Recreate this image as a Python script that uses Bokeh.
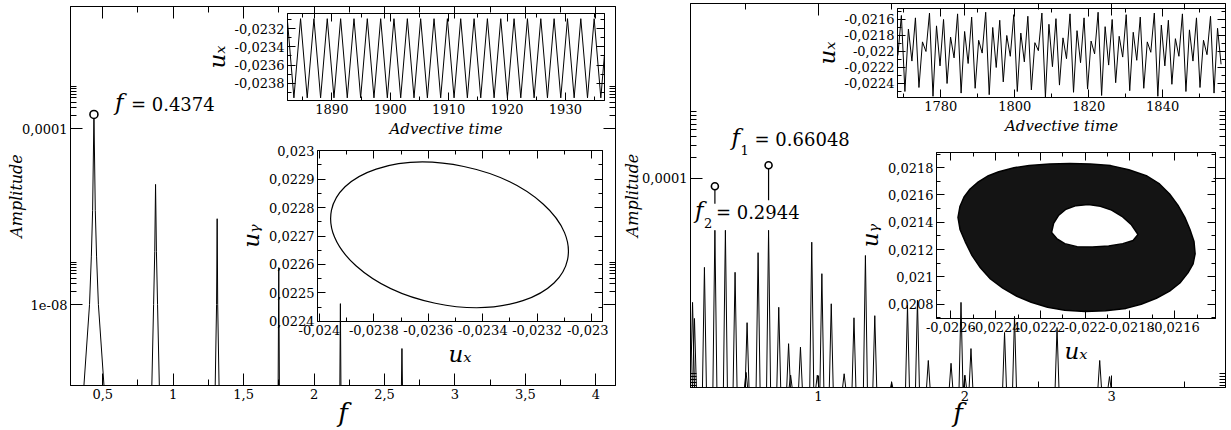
import numpy as np
from bokeh.plotting import figure
from bokeh.models import (FixedTicker, LinearAxis, LogAxis, Label, Column,
                          CustomJSTickFormatter, Range1d)
from bokeh.embed import file_html
from bokeh.resources import INLINE

FONT = "DejaVu Serif"

# ---------------- data ----------------
# left spectrum: polyline vertices (frequency, log10 amplitude)
left_f = [0.365, 0.406, 0.419, 0.428, 0.4374, 0.447, 0.456, 0.469, 0.510,
          0.848, 0.861, 0.869, 0.8748, 0.881, 0.889, 0.902,
          1.298, 1.308, 1.3122, 1.316, 1.326,
          1.745, 1.7496, 1.754,
          2.183, 2.187, 2.191,
          2.620, 2.624, 2.628]
left_logA = [-9.9, -8.0, -6.9, -5.86, -3.68, -5.86, -6.9, -8.0, -9.9,
             -9.9, -8.0, -6.8, -5.27, -6.8, -8.0, -9.9,
             -9.9, -8.0, -6.05, -8.0, -9.9,
             -9.9, -7.16, -9.9,
             -9.9, -7.98, -9.9,
             -9.9, -9.0, -9.9]
left_peak_f = 0.4374
left_peak_logA = -3.68

# right spectrum: spike tops (frequency, log10 amplitude)
right_spike_f = [0.142, 0.155, 0.223, 0.2944, 0.366, 0.432, 0.507, 0.514, 0.589,
                 0.6605, 0.730, 0.797, 0.811, 0.878, 0.955, 0.993, 1.024, 1.088,
                 1.176, 1.243, 1.321, 1.385, 1.500, 1.608, 1.676, 1.750, 1.905,
                 1.973, 2.000, 2.041, 2.270, 2.338, 2.628, 2.919, 2.986]
right_spike_logA = [-5.77, -6.00, -5.27, -4.74, -4.74, -5.34, -6.77, -6.06, -5.06,
                    -4.74, -5.84, -6.36, -6.81, -6.41, -4.91, -6.81, -5.36, -5.79,
                    -6.79, -5.99, -5.10, -5.96, -6.91, -5.81, -5.74, -6.60, -6.64,
                    -5.77, -6.81, -6.43, -6.20, -5.97, -6.13, -6.60, -6.83]
f1_value, f1_stem_top, f1_stem_bottom = 0.66048, -3.81, -4.31
f2_value, f2_stem_top, f2_stem_bottom = 0.2944, -4.11, -4.36

# tick values
left_xticks = [0.5, 1, 1.5, 2, 2.5, 3, 3.5, 4]
left_xminor = [0.25, 0.75, 1.25, 1.75, 2.25, 2.75, 3.25, 3.75]
left_yticks = [1e-8, 1e-4]
left_yminor = [2e-8, 3e-8, 4e-8, 5e-8, 6e-8, 7e-8, 8e-8, 9e-8,
               2e-4, 3e-4, 4e-4, 5e-4, 6e-4, 7e-4, 8e-4, 9e-4]
right_xticks = [1, 2, 3]
right_xminor = [0.5, 1.5, 2.5, 3.5]
right_yticks = [1e-4]
right_yminor = [1.1e-7, 1.22e-7, 1.35e-7, 1.5e-7, 1.65e-7,
                2e-4, 3e-4, 4e-4, 5e-4, 6e-4, 7e-4, 8e-4, 9e-4]

# inset A : periodic time series (extrema)
tsA_t = [1881.21, 1882.36, 1883.50, 1884.64, 1885.78, 1886.93, 1888.07, 1889.21,
         1890.36, 1891.50, 1892.64, 1893.79, 1894.93, 1896.07, 1897.21, 1898.36,
         1899.50, 1900.64, 1901.79, 1902.93, 1904.07, 1905.21, 1906.36, 1907.50,
         1908.64, 1909.79, 1910.93, 1912.07, 1913.21, 1914.36, 1915.50, 1916.64,
         1917.79, 1918.93, 1920.07, 1921.21, 1922.36, 1923.50, 1924.64, 1925.79,
         1926.93, 1928.07, 1929.21, 1930.36, 1931.50, 1932.64, 1933.79, 1934.93,
         1936.07, 1937.21]
tsA_u = [-0.02396, -0.02309, -0.02396, -0.02309, -0.02396, -0.02309, -0.02396, -0.02309,
         -0.02396, -0.02309, -0.02396, -0.02309, -0.02396, -0.02309, -0.02396, -0.02309,
         -0.02396, -0.02309, -0.02396, -0.02309, -0.02396, -0.02309, -0.02396, -0.02309,
         -0.02396, -0.02309, -0.02396, -0.02309, -0.02396, -0.02309, -0.02396, -0.02309,
         -0.02396, -0.02309, -0.02396, -0.02309, -0.02396, -0.02309, -0.02396, -0.02309,
         -0.02396, -0.02309, -0.02396, -0.02309, -0.02396, -0.02309, -0.02396, -0.02309,
         -0.02396, -0.02309]
tsA_xticks = [1890, 1900, 1910, 1920, 1930]
tsA_xminor = [1885, 1895, 1905, 1915, 1925, 1935]
tsA_yticks = [-0.0238, -0.0236, -0.0234, -0.0232]
tsA_yminor = [-0.0239, -0.0237, -0.0235, -0.0233, -0.0231]

# inset B : limit cycle (ellipse centre, axes, tilt)
cyc_ux, cyc_uy = -0.023522, 0.022704
cyc_w, cyc_h, cyc_angle = 0.000886, 0.000491, -0.206
phB_xticks = [-0.024, -0.0238, -0.0236, -0.0234, -0.0232, -0.023]
phB_xminor = [-0.0239, -0.0237, -0.0235, -0.0233, -0.0231]
phB_yticks = [0.0224, 0.0225, 0.0226, 0.0227, 0.0228, 0.0229, 0.023]
phB_yminor = [0.02245, 0.02255, 0.02265, 0.02275, 0.02285, 0.02295]

# inset C : quasi-periodic time series (extrema)
tsC_t0, tsC_dt = 1768.4, 0.95
tsC_u = [-0.02205, -0.02155, -0.02250, -0.02172, -0.02212, -0.02158, -0.02245, -0.02188,
         -0.02200, -0.02152, -0.02256, -0.02168, -0.02218, -0.02160, -0.02240, -0.02182,
         -0.02208, -0.02153, -0.02252, -0.02175, -0.02215, -0.02157, -0.02246, -0.02186,
         -0.02202, -0.02151, -0.02254, -0.02170, -0.02220, -0.02161, -0.02238, -0.02180,
         -0.02206, -0.02154, -0.02250, -0.02177, -0.02213, -0.02156, -0.02248, -0.02189,
         -0.02199, -0.02152, -0.02257, -0.02166, -0.02219, -0.02159, -0.02242, -0.02183,
         -0.02209, -0.02153, -0.02251, -0.02174, -0.02214, -0.02158, -0.02247, -0.02187,
         -0.02203, -0.02151, -0.02255, -0.02169, -0.02217, -0.02160, -0.02239, -0.02181,
         -0.02207, -0.02154, -0.02249, -0.02176, -0.02211, -0.02157, -0.02246, -0.02188,
         -0.02201, -0.02152, -0.02256, -0.02167, -0.02218, -0.02161, -0.02241, -0.02184,
         -0.02206, -0.02153, -0.02250, -0.02173, -0.02212, -0.02158, -0.02245, -0.02186,
         -0.02204, -0.02156, -0.02252, -0.02171, -0.02216]
tsC_xticks = [1780, 1800, 1820, 1840, 1860]
tsC_xminor = [1770, 1790, 1810, 1830, 1850]
tsC_yticks = [-0.0224, -0.0222, -0.022, -0.0218, -0.0216]
tsC_yminor = [-0.0225, -0.0223, -0.0221, -0.0219, -0.0217, -0.0215]

# inset D : torus attractor (outer boundary and hole)
tor_out_x = [-0.022568, -0.022559, -0.022541, -0.022514, -0.022477, -0.022432, -0.022386,
             -0.022318, -0.022250, -0.022159, -0.022068, -0.021977, -0.021886, -0.021805,
             -0.021727, -0.021668, -0.021623, -0.021586, -0.021555, -0.021532, -0.021514,
             -0.021509, -0.021518, -0.021541, -0.021577, -0.021623, -0.021682, -0.021750,
             -0.021818, -0.021909, -0.022000, -0.022091, -0.022168, -0.022241, -0.022305,
             -0.022368, -0.022423, -0.022468, -0.022505, -0.022536, -0.022559]
tor_out_y = [0.021437, 0.021518, 0.021585, 0.021644, 0.021696, 0.021741, 0.021770,
             0.021800, 0.021815, 0.021826, 0.021830, 0.021826, 0.021815, 0.021785,
             0.021741, 0.021681, 0.021607, 0.021526, 0.021437, 0.021348, 0.021259,
             0.021170, 0.021096, 0.021030, 0.020956, 0.020896, 0.020844, 0.020800,
             0.020770, 0.020752, 0.020748, 0.020756, 0.020778, 0.020815, 0.020859,
             0.020919, 0.020985, 0.021067, 0.021156, 0.021259, 0.021348]
tor_in_x = [-0.022150, -0.022141, -0.022118, -0.022086, -0.022041, -0.021986, -0.021932,
            -0.021882, -0.021836, -0.021795, -0.021764, -0.021786, -0.021832, -0.021895,
            -0.021968, -0.022036, -0.022091, -0.022127]
tor_in_y = [0.021326, 0.021393, 0.021452, 0.021496, 0.021522, 0.021530, 0.021518,
            0.021489, 0.021444, 0.021385, 0.021311, 0.021267, 0.021244, 0.021226,
            0.021219, 0.021222, 0.021244, 0.021281]
phD_xticks = [-0.0226, -0.0224, -0.0222, -0.022, -0.0218, -0.0216]
phD_xminor = [-0.0225, -0.0223, -0.0221, -0.0219, -0.0217, -0.0215]
phD_yticks = [0.0208, 0.021, 0.0212, 0.0214, 0.0216, 0.0218]
phD_yminor = [0.0207, 0.0209, 0.0211, 0.0213, 0.0215, 0.0217, 0.0219]

# ---------------- helpers ----------------
comma_fmt = CustomJSTickFormatter(
    code="return (Math.round(tick*1e7)/1e7).toString().replace('.', ',');")
log_fmt = CustomJSTickFormatter(code="""
const e = Math.round(Math.log10(tick));
if (e >= -5) { return tick.toFixed(-e).replace('.', ','); }
return '1e-' + String(-e).padStart(2, '0');
""")
blank_fmt = CustomJSTickFormatter(code="return '';")


def make_fig(w, h, xr, yr, borders, ylog=False, transparent=False, clear_border=False):
    l, r, t, b = borders
    p = figure(width=w, height=h, x_range=Range1d(*xr), y_range=Range1d(*yr),
               y_axis_type="log" if ylog else "linear", output_backend="svg",
               toolbar_location=None, min_border_left=l, min_border_right=r,
               min_border_top=t, min_border_bottom=b, title=None)
    p.grid.visible = False
    p.outline_line_color = "black"
    p.outline_line_width = 1
    if transparent:
        p.background_fill_alpha = 0
        p.border_fill_alpha = 0
    else:
        p.background_fill_color = "white"
        p.border_fill_color = "white"
        if clear_border:
            p.border_fill_alpha = 0
    return p


def style_axis(ax, major_len, minor_len, fs, show=True):
    ax.major_tick_in = major_len
    ax.major_tick_out = 0
    ax.minor_tick_in = minor_len
    ax.minor_tick_out = 0
    ax.axis_line_color = "black"
    ax.major_tick_line_color = "black"
    ax.minor_tick_line_color = "black"
    ax.major_label_text_font = FONT
    ax.major_label_text_color = "black"
    ax.axis_label_text_font = FONT
    ax.axis_label_text_font_style = "italic"
    ax.axis_label_text_color = "black"
    if show:
        ax.major_label_text_font_size = fs
        ax.major_label_standoff = 3
    else:
        ax.major_label_text_font_size = "1px"
        ax.major_label_standoff = 0


def setup_axes(p, xt, xm, yt, ym, xlabel, ylabel, major_len, minor_len, fs,
               xl_fs, yl_fs, ylog=False, xl_stand=0, yl_stand=2):
    xtick = FixedTicker(ticks=xt, minor_ticks=xm)
    ytick = FixedTicker(ticks=yt, minor_ticks=ym)
    bx = p.xaxis[0]
    ly = p.yaxis[0]
    bx.ticker = xtick
    ly.ticker = ytick
    bx.formatter = comma_fmt
    ly.formatter = log_fmt if ylog else comma_fmt
    top = LinearAxis(ticker=xtick, formatter=blank_fmt)
    right = (LogAxis if ylog else LinearAxis)(ticker=ytick, formatter=blank_fmt)
    p.add_layout(top, "above")
    p.add_layout(right, "right")
    style_axis(bx, major_len, minor_len, fs)
    style_axis(ly, major_len, minor_len, fs)
    style_axis(top, major_len, minor_len, fs, show=False)
    style_axis(right, major_len, minor_len, fs, show=False)
    bx.axis_label = xlabel
    ly.axis_label = ylabel
    bx.axis_label_text_font_size = xl_fs
    ly.axis_label_text_font_size = yl_fs
    bx.axis_label_standoff = xl_stand
    ly.axis_label_standoff = yl_stand


def f_label(p, x, y, xo, yo, sub, rest, rest_off):
    p.add_layout(Label(x=x, y=y, x_offset=xo, y_offset=yo, text="f",
                       text_font=FONT, text_font_style="italic",
                       text_font_size="23px", text_color="black"))
    if sub:
        p.add_layout(Label(x=x, y=y, x_offset=xo + 9, y_offset=yo - 5, text=sub,
                           text_font=FONT, text_font_size="13px", text_color="black"))
    p.add_layout(Label(x=x, y=y, x_offset=xo + rest_off, y_offset=yo, text=rest,
                       text_font=FONT, text_font_size="18px", text_color="black"))


# ---------------- left main panel ----------------
pL = make_fig(641, 430, (0.271, 4.14), (10 ** -9.84, 10 ** -1.227), (60, 5, 6, 45), ylog=True)
setup_axes(pL, left_xticks, left_xminor, left_yticks, left_yminor, "f", "Amplitude",
           12, 6, "13px", "26px", "16px", ylog=True, xl_stand=-4, yl_stand=-7)
pL.line(left_f, [10 ** a for a in left_logA], color="black", line_width=1)
pL.scatter([left_peak_f], [10 ** left_peak_logA], marker="circle", size=8,
           fill_color="white", line_color="black", line_width=1.6)
f_label(pL, left_peak_f, 10 ** left_peak_logA, 21, -1, None, "= 0.4374", 16)

# ---------------- right main panel ----------------
pR = make_fig(631, 430, (0.128, 3.777), (10 ** -6.986, 10 ** -1.5), (60, 1, 3, 43), ylog=True,
              clear_border=True)
setup_axes(pR, right_xticks, right_xminor, right_yticks, right_yminor, "f", "Amplitude",
           12, 6, "13px", "26px", "16px", ylog=True, xl_stand=-6, yl_stand=-3)
half_w = 0.014
floor_log = -7.05
sx, sy = [], []
for f, a in zip(right_spike_f, right_spike_logA):
    sx += [f - half_w, f, f + half_w]
    sy += [10 ** floor_log, 10 ** a, 10 ** floor_log]
pR.line(sx, sy, color="black", line_width=1)
pR.segment(x0=[f1_value, f2_value], y0=[10 ** f1_stem_top, 10 ** f2_stem_top],
           x1=[f1_value, f2_value], y1=[10 ** f1_stem_bottom, 10 ** f2_stem_bottom],
           color="black", line_width=1.2)
pR.scatter([f1_value, f2_value], [10 ** f1_stem_top, 10 ** f2_stem_top], marker="circle",
           size=7, fill_color="white", line_color="black", line_width=1.6)
f_label(pR, f1_value, 10 ** f1_stem_top, -37, 15, "1", "= 0.66048", 23)
f_label(pR, f2_value, 10 ** f2_stem_top, -20, -37, "2", "= 0.2944", 21)

# ---------------- inset A ----------------
pA = make_fig(413, 142, (1882.4, 1936.7), (-0.023989, -0.023033), (87, 4, 13, 42),
              transparent=True)
setup_axes(pA, tsA_xticks, tsA_xminor, tsA_yticks, tsA_yminor, "Advective time", "uₓ",
           8, 4, "13px", "15px", "23px", xl_stand=3, yl_stand=2)
pA.line(tsA_t, tsA_u, color="black", line_width=1)

# ---------------- inset B ----------------
pB = make_fig(381, 235, (-0.024007, -0.02296), (0.0223995, 0.0230005), (90, 6, 10, 54),
              transparent=True)
setup_axes(pB, phB_xticks, phB_xminor, phB_yticks, phB_yminor, "uₓ", "uᵧ",
           8, 4, "13px", "23px", "23px", xl_stand=3, yl_stand=2)
pB.ellipse(x=[cyc_ux], y=[cyc_uy], width=[cyc_w], height=[cyc_h], angle=[cyc_angle],
           fill_color=None, line_color="black", line_width=1.2)

# ---------------- inset C ----------------
tsC_t = [tsC_t0 + tsC_dt * i for i in range(len(tsC_u))]
pC = make_fig(424, 142, (1768.3, 1857.0), (-0.022575, -0.021463), (90, 2, 8, 45),
              transparent=True)
setup_axes(pC, tsC_xticks, tsC_xminor, tsC_yticks, tsC_yminor, "Advective time", "uₓ",
           8, 4, "13px", "15px", "23px", xl_stand=3, yl_stand=2)
pC.line(tsC_t, tsC_u, color="black", line_width=1)

# ---------------- inset D ----------------
pD = make_fig(375, 228, (-0.022664, -0.021418), (0.020696, 0.021911), (90, 6, 10, 52),
              transparent=True)
setup_axes(pD, phD_xticks, phD_xminor, phD_yticks, phD_yminor, "uₓ", "uᵧ",
           8, 4, "13px", "23px", "23px", xl_stand=3, yl_stand=2)
pD.multi_polygons(xs=[[[tor_out_x, tor_in_x]]], ys=[[[tor_out_y, tor_in_y]]],
                  fill_color="black", fill_alpha=0.92, line_color="black", line_width=1.5)

# ---------------- page ----------------
placed = [(pL, -20, 0), (pR, 600, 0), (pA, 197, 0), (pB, 227, 140), (pC, 807, 0),
          (pD, 846, 142)]
for fig, x, y in placed:
    fig.styles = {"position": "absolute", "left": f"{x}px", "top": f"{y}px"}
layout = Column(children=[f for f, _, _ in placed], width=1231, height=430,
                styles={"position": "relative", "overflow": "hidden"})
open("out.html", "w").write(file_html(layout, INLINE))
